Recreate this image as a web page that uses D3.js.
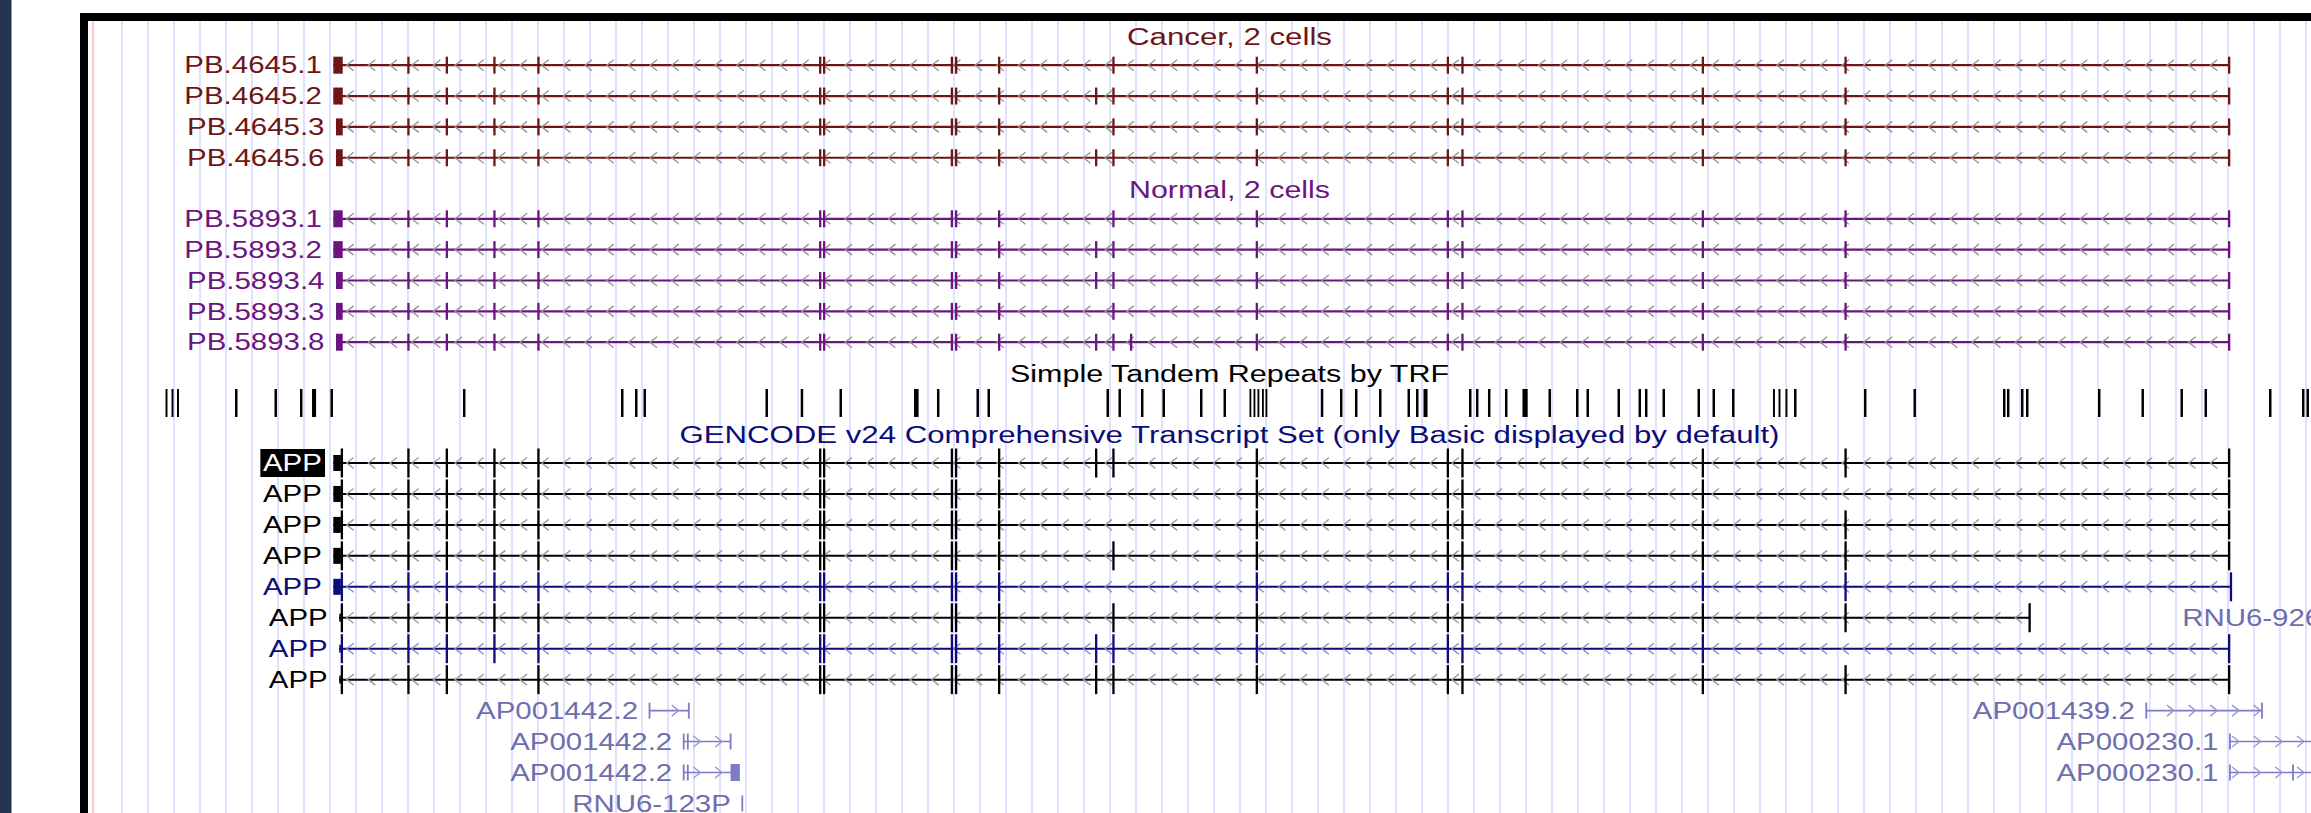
<!DOCTYPE html>
<html><head><meta charset="utf-8">
<script src="https://cdn.jsdelivr.net/npm/d3@7"></script>
<style>html,body{margin:0;padding:0;background:#fff;overflow:hidden}</style>
</head><body>
<svg id="c" width="2311" height="813"></svg>
<script>
// ---------------- DATA (positions in kb from the 3' end of APP) ----------------
const geneEndKb = 290.69;

const cancerLabels = ["PB.4645.1","PB.4645.2","PB.4645.3","PB.4645.6"];
const cancerStart = [-0.06,-0.06,0.35,0.35];
const cancerEnd = [290.69,290.69,290.69,290.69];
const cancerExons = [
  [11.44,17.33,24.63,31.38,74.59,75.20,94.79,95.44,102.04,119.57,141.56,170.86,173.10,209.97,231.86],
  [11.44,17.33,24.63,31.38,74.59,75.20,94.79,95.44,102.04,116.92,119.57,141.56,170.86,173.10,209.97,231.86],
  [11.44,17.33,24.63,31.38,74.59,75.20,94.79,95.44,102.04,119.57,141.56,170.86,173.10,209.97,231.86],
  [11.44,17.33,24.63,31.38,74.59,75.20,94.79,95.44,102.04,116.92,119.57,141.56,170.86,173.10,209.97,231.86]
];

const normalLabels = ["PB.5893.1","PB.5893.2","PB.5893.4","PB.5893.3","PB.5893.8"];
const normalStart = [-0.06,-0.06,0.35,0.35,0.35];
const normalEnd = [290.69,290.69,290.69,290.69,290.69];
const normalExons = [
  [11.44,17.33,24.63,31.38,74.59,75.20,94.79,95.44,102.04,119.57,141.56,170.86,173.10,209.97,231.86],
  [11.44,17.33,24.63,31.38,74.59,75.20,94.79,95.44,102.04,116.92,119.57,141.56,170.86,173.10,209.97,231.86],
  [11.44,17.33,24.63,31.38,74.59,75.20,94.79,95.44,102.04,116.92,119.57,141.56,170.86,173.10,209.97,231.86],
  [11.44,17.33,24.63,31.38,74.59,75.20,94.79,95.44,102.04,119.57,141.56,170.86,173.10,209.97,231.86],
  [11.44,17.33,24.63,31.38,74.59,75.20,94.79,95.44,102.04,116.92,119.57,122.28,141.56,170.86,173.10,209.97,231.86]
];

const gencodeLabels = ["APP","APP","APP","APP","APP","APP","APP","APP"];
const gencodeBlue = [false,false,false,false,true,false,true,false];
const gencodeStart = [-0.06,-0.06,-0.06,-0.06,-0.06,0.85,0.85,0.85];
const gencodeEnd = [290.69,290.69,290.69,290.69,290.97,260.09,290.69,290.69];
const gencodeExons = [
  [11.44,17.33,24.63,31.38,74.59,75.20,94.79,95.44,102.04,116.92,119.57,141.56,170.86,173.10,209.97,231.86],
  [11.44,17.33,24.63,31.38,74.59,75.20,94.79,95.44,102.04,141.56,170.86,173.10,209.97],
  [11.44,17.33,24.63,31.38,74.59,75.20,94.79,95.44,102.04,141.56,170.86,173.10,209.97,231.86],
  [11.44,17.33,24.63,31.38,74.59,75.20,94.79,95.44,102.04,119.57,141.56,170.86,173.10,209.97,231.86],
  [11.44,17.33,24.63,31.38,74.59,75.20,94.79,95.44,102.04,141.56,170.86,173.10,209.97,231.86],
  [11.44,17.33,24.63,31.38,74.59,75.20,94.79,95.44,102.04,119.57,141.56,170.86,173.10,209.97,231.86],
  [11.44,17.33,24.63,31.38,74.59,75.20,94.79,95.44,102.04,116.92,119.57,141.56,170.86,173.10,209.97],
  [11.44,17.33,31.38,74.59,75.20,94.79,95.44,102.04,116.92,119.57,141.56,170.86,173.10,209.97,231.86]
];

// non-coding GENCODE items (row = packed row in the GENCODE track)
const ncLabels = ["AP001442.2","AP001442.2","AP001442.2","RNU6-123P","AP001439.2","AP000230.1","AP000230.1","RNU6-926P"];
const ncRow = [8,9,10,11,8,9,10,5];
const ncStart = [48.44,53.68,53.68,62.67,278.0,290.84,290.84,309.6];
const ncEnd = [54.46,60.87,62.29,62.67,295.75,330.0,330.0,309.8];
const ncExons = [[48.44,54.46],[53.68,54.31,60.87],[53.68,54.31],[62.67],[278.0,295.75],[290.84],[290.84,300.5],[309.6]];
const ncThick = [null,null,[60.87,62.29],null,null,null,null,null];

// Simple tandem repeats: [start kb, length kb]
const strRepeats = [
  [-25.64,0.3],[-24.72,0.3],[-23.88,0.3],[-14.98,0.38],[-8.93,0.38],[-5.02,0.38],[-3.17,0.62],[-0.34,0.38],
  [19.98,0.38],[44.22,0.38],[46.37,0.38],[47.67,0.38],[66.38,0.38],[71.78,0.38],[77.73,0.38],[89.16,0.7],
  [92.68,0.38],[98.74,0.38],[100.43,0.38],[118.68,0.38],[120.52,0.38],[123.97,0.38],[127.27,0.38],[133.02,0.38],
  [136.63,0.38],[140.61,0.28],[141.23,0.28],[141.84,0.28],[142.53,0.28],[143.07,0.28],[151.55,0.38],[154.49,0.38],
  [156.79,0.38],[160.48,0.38],[164.85,0.38],[166.15,0.38],[167.30,0.62],[174.28,0.38],[175.35,0.38],[177.19,0.38],
  [179.80,0.38],[182.48,0.8],[186.47,0.38],[190.69,0.38],[192.30,0.38],[197.06,0.38],[200.28,0.38],[201.27,0.38],
  [203.96,0.38],[209.33,0.38],[211.63,0.38],[214.62,0.38],[220.90,0.3],[221.75,0.3],[222.82,0.3],[224.13,0.38],
  [234.86,0.38],[242.45,0.38],[256.18,0.38],[256.79,0.38],[258.94,0.38],[259.71,0.38],[270.75,0.38],[277.42,0.38],
  [283.40,0.38],[287.09,0.38],[296.98,0.38],[302.04,0.38],[302.73,0.38]
];

const trackTitles = ["Cancer, 2 cells","Normal, 2 cells","Simple Tandem Repeats by TRF",
  "GENCODE v24 Comprehensive Transcript Set (only Basic displayed by default)"];

// ---------------- DRAWING ----------------
const W = 2311, H = 813;
const FONT = "'Liberation Sans', Arial, Helvetica, sans-serif";
const SX = 1.28;
const svg = d3.select("#c");
const x = d3.scaleLinear().domain([0, geneEndKb]).range([333.7, 2229]);

const C_CANCER = "#6e1515", C_NORMAL = "#6c1580", C_BLUE = "#0c0c78", C_BLACK = "#000";
const C_NC_TEXT = "#6e6eac", C_NC_LINE = "#7c7cc4", C_NC_CHEV = "#9898cc";

svg.append("rect").attr("width",W).attr("height",H).attr("fill","#fff");

// guidelines
svg.append("g").selectAll("line").data(d3.range(122, W, 26)).join("line")
  .attr("x1",d=>d).attr("x2",d=>d).attr("y1",21).attr("y2",H)
  .attr("stroke","#d3d3ff").attr("stroke-width",1.4);
svg.append("line").attr("x1",93).attr("x2",93).attr("y1",21).attr("y2",H)
  .attr("stroke","#ffb4b4").attr("stroke-width",1.5);

const CHEV0 = 346.7, CHEVSTEP = 21.67;
function chevrons(g, s, e, y, strand, color){
  const xs = d3.range(CHEV0 - CHEVSTEP*20, W + 40, CHEVSTEP).filter(c => c > s + 1 && c + 7 < e - 1);
  g.append("g").selectAll("path").data(xs).join("path")
    .attr("d", c => strand < 0 ? `M${c+7},${y-5.5}L${c},${y}L${c+7},${y+5.5}` : `M${c},${y-5.5}L${c+7},${y}L${c},${y+5.5}`)
    .attr("fill","none").attr("stroke",color).attr("stroke-width",1.35);
}
function label(g, text, xEnd, y, color){
  const gg = g.append("g").attr("transform",`translate(${xEnd},${y+8.2}) scale(${SX},1)`);
  const t = gg.append("text").attr("text-anchor","end").attr("font-family",FONT)
    .attr("font-size",23).attr("fill",color).text(text);
  return {gg, t};
}
function title(text, yBase, width, color){
  svg.append("text").attr("x",1229.5).attr("y",yBase).attr("text-anchor","middle")
    .attr("font-family",FONT).attr("font-size",23).attr("fill",color)
    .attr("textLength",width).attr("lengthAdjust","spacingAndGlyphs").text(text);
}
function exonTicks(g, exons, y, h, color){
  g.append("g").selectAll("rect").data(exons).join("rect")
    .attr("x",d=>x(d)-1).attr("width",2.3).attr("y",y-h).attr("height",2*h).attr("fill",color);
}

// ----- PacBio tracks -----
function pbTrack(labels, starts, ends, exons, y0, color){
  const g = svg.append("g");
  labels.forEach((lab,i)=>{
    const y = y0 + i*30.85;
    g.append("line").attr("x1",x(starts[i])).attr("x2",x(ends[i])).attr("y1",y).attr("y2",y)
      .attr("stroke",color).attr("stroke-width",2.2);
    chevrons(g, x(starts[i]), x(ends[i]), y, -1, "#959595");
    g.append("rect").attr("x",x(starts[i])).attr("width",x(1.23)-x(starts[i])+1).attr("y",y-8.5).attr("height",17).attr("fill",color);
    exonTicks(g, exons[i].concat([ends[i]]), y, 8.5, color);
    label(g, lab, x(starts[i]) - 11.5, y, color);
  });
}
title(trackTitles[0], 45, 205, C_CANCER);
pbTrack(cancerLabels, cancerStart, cancerEnd, cancerExons, 65.2, C_CANCER);
title(trackTitles[1], 198, 201, C_NORMAL);
pbTrack(normalLabels, normalStart, normalEnd, normalExons, 218.8, C_NORMAL);

// ----- Simple tandem repeats -----
title(trackTitles[2], 382, 439, "#000");
svg.append("g").selectAll("rect").data(strRepeats).join("rect")
  .attr("x",d=>x(d[0])-1).attr("width",d=>Math.max(1.8, x(d[0]+d[1])-x(d[0])))
  .attr("y",389).attr("height",28).attr("fill","#000");

// ----- GENCODE -----
title(trackTitles[3], 443, 1100, C_BLUE);
const gy0 = 463, gstep = 30.95;
const gG = svg.append("g");
gencodeLabels.forEach((lab,i)=>{
  const y = gy0 + i*gstep;
  const col = gencodeBlue[i] ? C_BLUE : C_BLACK;
  const s = x(gencodeStart[i]), e = x(gencodeEnd[i]);
  gG.append("line").attr("x1",s).attr("x2",e).attr("y1",y).attr("y2",y).attr("stroke",col).attr("stroke-width",2);
  chevrons(gG, s, e, y, -1, gencodeBlue[i] ? "#8a8abf" : "#9c9c9c");
  if (gencodeStart[i] < 0.5) {
    gG.append("rect").attr("x",s).attr("width",x(1.1)-s).attr("y",y-8).attr("height",16).attr("fill",col);
  } else {
    gG.append("rect").attr("x",s).attr("width",x(1.1)-s).attr("y",y-4).attr("height",8).attr("fill",col);
  }
  exonTicks(gG, [1.23].concat(gencodeExons[i], [gencodeEnd[i]]), y, 14.5, col);
  const L = label(gG, lab, s - 11.5, y, col);
  if (i === 0) {
    const bb = L.t.node().getBBox();
    L.gg.insert("rect","text").attr("x",bb.x-2).attr("width",bb.width+4.5)
      .attr("y",-22.2).attr("height",28).attr("fill","#000");
    L.t.attr("fill","#fff");
  }
});

// non-coding items
ncLabels.forEach((lab,i)=>{
  const y = gy0 + ncRow[i]*gstep;
  const s = x(ncStart[i]), e = x(ncEnd[i]);
  if (e - s > 2) {
    gG.append("line").attr("x1",s).attr("x2",e).attr("y1",y).attr("y2",y).attr("stroke",C_NC_LINE).attr("stroke-width",1.6);
    chevrons(gG, s, e, y, 1, C_NC_CHEV);
  }
  gG.append("g").selectAll("rect").data(ncExons[i]).join("rect")
    .attr("x",d=>x(d)-0.9).attr("width",1.8).attr("y",y-8).attr("height",16).attr("fill",C_NC_LINE);
  if (ncThick[i]) {
    gG.append("rect").attr("x",x(ncThick[i][0])).attr("width",x(ncThick[i][1])-x(ncThick[i][0]))
      .attr("y",y-8.5).attr("height",17).attr("fill",C_NC_LINE);
  }
  label(gG, lab, s - 11.5, y, C_NC_TEXT);
});

// frame and side strip (drawn last)
svg.append("rect").attr("x",0).attr("y",0).attr("width",11.5).attr("height",H).attr("fill","#22344f");
svg.append("rect").attr("x",80).attr("y",13).attr("width",8).attr("height",H-13).attr("fill","#000");
svg.append("rect").attr("x",80).attr("y",13).attr("width",W-80).attr("height",8).attr("fill","#000");
</script>
</body></html>
